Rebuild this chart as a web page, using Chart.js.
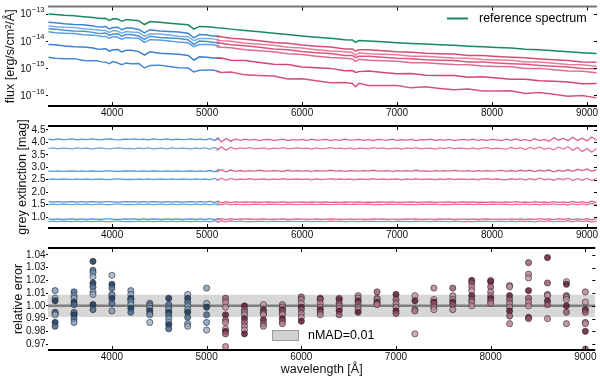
<!DOCTYPE html>
<html>
<head>
<meta charset="utf-8">
<script src="https://cdn.jsdelivr.net/npm/chart.js@4.4.0/dist/chart.umd.min.js"></script>
<style>
  body { margin: 0; background: #fff; width: 600px; height: 379px; overflow: hidden; position: relative; }
  canvas { position: absolute; left: 0; }
</style>
</head>
<body>
<canvas id="flux" width="600" height="122" style="top:0px"></canvas>
<canvas id="ext" width="600" height="130" style="top:116px"></canvas>
<canvas id="err" width="600" height="141" style="top:238px"></canvas>
<script>
// ---- top panel: log10 flux, blue arm / red arm of six observed spectra + reference ----
const WL_REF = [3330, 3400, 3500, 3600, 3700, 3800, 3840, 3890, 3930, 3970, 4010, 4060, 4100, 4150, 4200, 4280, 4340, 4400, 4500, 4600, 4700, 4800, 4861, 4920, 5000, 5060,
  5100, 5150, 5250, 5400, 5550, 5700, 5850, 6000, 6150, 6300, 6450, 6530, 6563, 6600, 6700, 6850, 7000, 7150, 7300, 7450, 7600, 7750, 7900, 8050, 8200, 8350, 8500, 8650, 8800, 8950, 9100];
const LOGF_REF = [-12.99, -13.01, -13.04, -13.06, -13.09, -13.12, -13.14, -13.16, -13.15, -13.23, -13.17, -13.18, -13.26, -13.20, -13.21, -13.24, -13.38, -13.27, -13.30, -13.33, -13.36, -13.39, -13.55, -13.45, -13.46, -13.48,
  -13.50, -13.51, -13.55, -13.60, -13.65, -13.70, -13.75, -13.80, -13.85, -13.89, -13.94, -13.95, -14.04, -13.97, -13.99, -14.02, -14.05, -14.08, -14.10, -14.13, -14.15, -14.18, -14.20, -14.23, -14.25, -14.29, -14.31, -14.35, -14.39, -14.42, -14.45];

const WL_BLUE = [3330, 3400, 3500, 3600, 3700, 3800, 3840, 3890, 3930, 3970, 4010, 4060, 4100, 4150, 4200, 4280, 4340, 4400, 4500, 4600, 4700, 4800, 4861, 4920, 5000, 5060, 5130];
const WL_RED = [5100, 5150, 5250, 5400, 5550, 5700, 5850, 6000, 6150, 6300, 6450, 6530, 6563, 6600, 6700, 6850, 7000, 7150, 7300, 7450, 7600, 7750, 7900, 8050, 8200, 8350, 8500, 8650, 8800, 8950, 9100];

const LOGF_BLUE = [
  [-13.30, -13.31, -13.35, -13.38, -13.39, -13.43, -13.46, -13.47, -13.45, -13.54, -13.49, -13.48, -13.57, -13.51, -13.51, -13.56, -13.69, -13.57, -13.62, -13.64, -13.66, -13.70, -13.87, -13.75, -13.77, -13.80, -13.80],
  [-13.43, -13.46, -13.48, -13.49, -13.54, -13.56, -13.57, -13.60, -13.60, -13.67, -13.60, -13.63, -13.70, -13.64, -13.66, -13.67, -13.82, -13.72, -13.73, -13.77, -13.81, -13.83, -13.98, -13.90, -13.90, -13.91, -13.95],
  [-13.54, -13.55, -13.59, -13.62, -13.63, -13.67, -13.70, -13.71, -13.69, -13.78, -13.73, -13.72, -13.81, -13.75, -13.75, -13.80, -13.93, -13.81, -13.86, -13.88, -13.90, -13.94, -14.11, -13.99, -14.01, -14.04, -14.04],
  [-13.65, -13.68, -13.70, -13.71, -13.76, -13.78, -13.79, -13.82, -13.82, -13.89, -13.82, -13.85, -13.92, -13.86, -13.88, -13.89, -14.04, -13.94, -13.95, -13.99, -14.03, -14.05, -14.20, -14.12, -14.12, -14.13, -14.17],
  [-14.12, -14.13, -14.17, -14.20, -14.21, -14.25, -14.28, -14.29, -14.27, -14.36, -14.31, -14.30, -14.39, -14.33, -14.33, -14.38, -14.51, -14.39, -14.44, -14.46, -14.48, -14.52, -14.69, -14.57, -14.59, -14.62, -14.62],
  [-14.59, -14.63, -14.64, -14.64, -14.71, -14.72, -14.72, -14.76, -14.77, -14.83, -14.75, -14.80, -14.86, -14.80, -14.83, -14.82, -14.98, -14.89, -14.88, -14.93, -14.98, -14.99, -15.13, -15.07, -15.06, -15.06, -15.12]
];
const LOGF_RED = [
  [-13.83, -13.83, -13.89, -13.92, -13.98, -14.04, -14.07, -14.14, -14.18, -14.21, -14.28, -14.28, -14.36, -14.31, -14.31, -14.35, -14.39, -14.40, -14.44, -14.46, -14.47, -14.52, -14.52, -14.56, -14.59, -14.61, -14.65, -14.68, -14.71, -14.76, -14.77],
  [-13.96, -13.98, -14.00, -14.07, -14.11, -14.15, -14.22, -14.25, -14.31, -14.36, -14.39, -14.41, -14.51, -14.42, -14.46, -14.48, -14.50, -14.55, -14.55, -14.59, -14.62, -14.63, -14.67, -14.69, -14.70, -14.76, -14.76, -14.81, -14.86, -14.87, -14.92],
  [-14.07, -14.07, -14.13, -14.16, -14.22, -14.28, -14.31, -14.38, -14.42, -14.45, -14.52, -14.52, -14.60, -14.55, -14.55, -14.59, -14.63, -14.64, -14.68, -14.70, -14.71, -14.76, -14.76, -14.80, -14.83, -14.85, -14.89, -14.92, -14.95, -15.00, -15.01],
  [-14.20, -14.22, -14.24, -14.31, -14.35, -14.39, -14.46, -14.49, -14.55, -14.60, -14.63, -14.65, -14.75, -14.66, -14.70, -14.72, -14.74, -14.79, -14.79, -14.83, -14.86, -14.87, -14.91, -14.93, -14.94, -15.00, -15.00, -15.05, -15.10, -15.11, -15.16],
  [-14.63, -14.62, -14.70, -14.71, -14.78, -14.85, -14.86, -14.95, -14.98, -15.00, -15.09, -15.08, -15.15, -15.12, -15.10, -15.15, -15.20, -15.19, -15.25, -15.26, -15.26, -15.33, -15.31, -15.36, -15.40, -15.40, -15.46, -15.48, -15.50, -15.57, -15.56],
  [-15.11, -15.15, -15.13, -15.24, -15.26, -15.28, -15.39, -15.38, -15.46, -15.53, -15.52, -15.56, -15.68, -15.55, -15.63, -15.63, -15.63, -15.72, -15.68, -15.74, -15.79, -15.76, -15.84, -15.84, -15.83, -15.93, -15.89, -15.96, -16.03, -16.00, -16.09]
];
const FLUX_TICKS = [-16, -15, -14, -13];

// ---- middle panel: grey extinction [mag] ----
const WL_EXT_BLUE = [3330, 3380, 3430, 3480, 3530, 3580, 3630, 3680, 3730, 3780, 3830, 3880, 3930, 3980, 4030, 4080, 4130, 4180, 4230,
  4280, 4330, 4380, 4430, 4480, 4530, 4580, 4630, 4680, 4730, 4780, 4830, 4880, 4930, 4980, 5030, 5080, 5130];
const WL_EXT_RED = [5100, 5150, 5200, 5250, 5300, 5350, 5400, 5450, 5500, 5550, 5600, 5650, 5700, 5750, 5800, 5850, 5900, 5950, 6000, 6050,
  6100, 6150, 6200, 6250, 6300, 6350, 6400, 6450, 6500, 6550, 6600, 6650, 6700, 6750, 6800, 6850, 6900, 6950, 7000, 7050,
  7100, 7150, 7200, 7250, 7300, 7350, 7400, 7450, 7500, 7550, 7600, 7650, 7700, 7750, 7800, 7850, 7900, 7950, 8000, 8050,
  8100, 8150, 8200, 8250, 8300, 8350, 8400, 8450, 8500, 8550, 8600, 8650, 8700, 8750, 8800, 8850, 8900, 8950, 9000, 9050, 9100];
const EXT_BLUE = [
  [4.13, 4.10, 4.14, 4.11, 4.12, 4.14, 4.10, 4.13, 4.11, 4.14, 4.12, 4.10, 4.13, 4.14, 4.11, 4.10, 4.13, 4.12, 4.14, 4.11, 4.13, 4.10, 4.14, 4.12, 4.11, 4.14, 4.10, 4.13, 4.11, 4.12, 4.14, 4.11, 4.13, 4.10, 4.15, 4.08, 4.18],
  [3.75, 3.78, 3.74, 3.77, 3.76, 3.74, 3.78, 3.75, 3.77, 3.74, 3.76, 3.78, 3.75, 3.74, 3.77, 3.78, 3.75, 3.76, 3.74, 3.77, 3.75, 3.78, 3.74, 3.76, 3.77, 3.74, 3.78, 3.75, 3.77, 3.76, 3.74, 3.77, 3.75, 3.78, 3.73, 3.80, 3.70],
  [2.86, 2.84, 2.86, 2.84, 2.85, 2.86, 2.84, 2.86, 2.84, 2.86, 2.85, 2.84, 2.86, 2.86, 2.84, 2.84, 2.86, 2.85, 2.86, 2.84, 2.86, 2.84, 2.86, 2.85, 2.84, 2.86, 2.84, 2.86, 2.84, 2.85, 2.86, 2.84, 2.86, 2.84, 2.87, 2.82, 2.93],
  [2.51, 2.53, 2.51, 2.53, 2.52, 2.51, 2.53, 2.51, 2.53, 2.51, 2.52, 2.53, 2.51, 2.51, 2.53, 2.53, 2.51, 2.52, 2.51, 2.53, 2.51, 2.53, 2.51, 2.52, 2.53, 2.51, 2.53, 2.51, 2.53, 2.52, 2.51, 2.53, 2.51, 2.53, 2.50, 2.55, 2.48],
  [1.62, 1.60, 1.62, 1.60, 1.61, 1.62, 1.60, 1.62, 1.60, 1.62, 1.61, 1.60, 1.62, 1.62, 1.60, 1.60, 1.62, 1.61, 1.62, 1.60, 1.62, 1.60, 1.62, 1.61, 1.60, 1.62, 1.60, 1.62, 1.60, 1.61, 1.62, 1.60, 1.62, 1.60, 1.63, 1.59, 1.64],
  [1.50, 1.52, 1.50, 1.52, 1.51, 1.50, 1.52, 1.50, 1.52, 1.50, 1.51, 1.52, 1.50, 1.50, 1.52, 1.52, 1.50, 1.51, 1.50, 1.52, 1.50, 1.52, 1.50, 1.51, 1.52, 1.50, 1.52, 1.50, 1.52, 1.51, 1.50, 1.52, 1.50, 1.52, 1.49, 1.53, 1.48],
  [0.93, 0.91, 0.93, 0.91, 0.92, 0.93, 0.91, 0.93, 0.91, 0.93, 0.92, 0.91, 0.93, 0.93, 0.91, 0.91, 0.93, 0.92, 0.93, 0.91, 0.93, 0.91, 0.93, 0.92, 0.91, 0.93, 0.91, 0.93, 0.91, 0.92, 0.93, 0.91, 0.93, 0.91, 0.94, 0.90, 0.95],
  [0.82, 0.84, 0.82, 0.84, 0.83, 0.82, 0.84, 0.82, 0.84, 0.82, 0.83, 0.84, 0.82, 0.82, 0.84, 0.84, 0.82, 0.83, 0.82, 0.84, 0.82, 0.84, 0.82, 0.83, 0.84, 0.82, 0.84, 0.82, 0.84, 0.83, 0.82, 0.84, 0.82, 0.84, 0.81, 0.85, 0.80]
];
const EXT_RED = [
  [4.19, 4.03, 4.16, 4.05, 4.14, 4.08, 4.13, 4.09, 4.12, 4.07, 4.11, 4.12, 4.08, 4.10, 4.13, 4.07, 4.11, 4.09, 4.12, 4.08, 4.13,
   4.09, 4.10, 4.12, 4.07, 4.11, 4.08, 4.13, 4.09, 4.10, 4.12, 4.08, 4.11, 4.07, 4.12, 4.10, 4.09, 4.13, 4.08, 4.11, 4.09,
   4.12, 4.07, 4.11, 4.10, 4.13, 4.08, 4.11, 4.09, 4.12, 4.07, 4.10, 4.12, 4.09, 4.13, 4.08, 4.11, 4.08, 4.12, 4.10, 4.07,
   4.13, 4.08, 4.14, 4.07, 4.12, 4.06, 4.15, 4.07, 4.12, 4.05, 4.19, 4.09, 4.16, 4.07, 4.21, 4.08, 4.17, 4.06, 4.22, 4.09],
  [3.68, 3.82, 3.69, 3.81, 3.73, 3.78, 3.75, 3.79, 3.74, 3.76, 3.78, 3.73, 3.77, 3.75, 3.79, 3.74, 3.76, 3.78, 3.75, 3.77, 3.73,
   3.78, 3.74, 3.76, 3.79, 3.75, 3.77, 3.74, 3.78, 3.73, 3.77, 3.76, 3.74, 3.79, 3.75, 3.78, 3.74, 3.76, 3.77, 3.73, 3.78,
   3.75, 3.79, 3.74, 3.76, 3.77, 3.73, 3.78, 3.75, 3.79, 3.74, 3.77, 3.76, 3.74, 3.78, 3.73, 3.77, 3.79, 3.74, 3.77, 3.75,
   3.73, 3.80, 3.74, 3.79, 3.71, 3.80, 3.73, 3.82, 3.72, 3.78, 3.70, 3.81, 3.73, 3.83, 3.68, 3.80, 3.64, 3.75, 3.61, 3.76],
  [2.81, 2.90, 2.82, 2.89, 2.84, 2.87, 2.84, 2.87, 2.85, 2.88, 2.85, 2.85, 2.87, 2.86, 2.84, 2.88, 2.85, 2.87, 2.85, 2.87, 2.84,
   2.87, 2.86, 2.85, 2.88, 2.85, 2.87, 2.84, 2.87, 2.86, 2.85, 2.87, 2.85, 2.88, 2.85, 2.86, 2.87, 2.84, 2.87, 2.85, 2.87,
   2.85, 2.88, 2.85, 2.86, 2.84, 2.87, 2.85, 2.87, 2.85, 2.88, 2.86, 2.85, 2.87, 2.84, 2.87, 2.85, 2.87, 2.85, 2.86, 2.88,
   2.84, 2.87, 2.84, 2.88, 2.85, 2.88, 2.83, 2.88, 2.85, 2.89, 2.82, 2.88, 2.84, 2.90, 2.84, 2.92, 2.87, 2.93, 2.84, 2.91],
  [2.47, 2.56, 2.48, 2.55, 2.50, 2.53, 2.51, 2.54, 2.51, 2.52, 2.53, 2.50, 2.53, 2.51, 2.54, 2.51, 2.52, 2.53, 2.51, 2.53, 2.50,
   2.53, 2.51, 2.52, 2.54, 2.51, 2.53, 2.51, 2.53, 2.50, 2.53, 2.52, 2.51, 2.54, 2.51, 2.53, 2.51, 2.52, 2.53, 2.50, 2.53,
   2.51, 2.54, 2.51, 2.52, 2.53, 2.50, 2.53, 2.51, 2.54, 2.51, 2.53, 2.52, 2.51, 2.53, 2.50, 2.53, 2.54, 2.51, 2.53, 2.51,
   2.50, 2.54, 2.51, 2.54, 2.49, 2.54, 2.50, 2.56, 2.50, 2.53, 2.48, 2.55, 2.50, 2.56, 2.47, 2.54, 2.48, 2.55, 2.47, 2.56],
  [1.64, 1.57, 1.62, 1.58, 1.62, 1.59, 1.61, 1.60, 1.61, 1.59, 1.60, 1.61, 1.59, 1.60, 1.61, 1.59, 1.60, 1.60, 1.61, 1.59, 1.61,
   1.60, 1.60, 1.61, 1.59, 1.60, 1.59, 1.61, 1.60, 1.60, 1.61, 1.59, 1.60, 1.59, 1.61, 1.60, 1.60, 1.61, 1.59, 1.60, 1.60,
   1.61, 1.59, 1.60, 1.60, 1.61, 1.59, 1.60, 1.60, 1.61, 1.59, 1.60, 1.61, 1.60, 1.61, 1.59, 1.60, 1.59, 1.61, 1.60, 1.59,
   1.61, 1.59, 1.62, 1.59, 1.61, 1.58, 1.62, 1.59, 1.61, 1.58, 1.62, 1.58, 1.61, 1.58, 1.63, 1.58, 1.62, 1.57, 1.64, 1.58],
  [1.54, 1.49, 1.54, 1.49, 1.52, 1.50, 1.51, 1.50, 1.52, 1.51, 1.50, 1.52, 1.51, 1.51, 1.50, 1.52, 1.51, 1.50, 1.51, 1.51, 1.52,
   1.50, 1.52, 1.51, 1.50, 1.51, 1.51, 1.52, 1.50, 1.52, 1.51, 1.51, 1.52, 1.50, 1.51, 1.50, 1.52, 1.51, 1.51, 1.52, 1.50,
   1.51, 1.50, 1.52, 1.51, 1.51, 1.52, 1.50, 1.51, 1.50, 1.52, 1.51, 1.51, 1.52, 1.50, 1.52, 1.51, 1.50, 1.52, 1.51, 1.51,
   1.52, 1.49, 1.52, 1.50, 1.53, 1.49, 1.52, 1.49, 1.53, 1.50, 1.53, 1.49, 1.52, 1.48, 1.54, 1.49, 1.53, 1.49, 1.55, 1.49],
  [0.90, 0.94, 0.90, 0.94, 0.91, 0.93, 0.92, 0.93, 0.91, 0.92, 0.93, 0.91, 0.92, 0.92, 0.93, 0.91, 0.92, 0.93, 0.92, 0.92, 0.91,
   0.93, 0.91, 0.92, 0.93, 0.92, 0.92, 0.91, 0.93, 0.91, 0.92, 0.92, 0.91, 0.93, 0.92, 0.93, 0.91, 0.92, 0.92, 0.91, 0.93,
   0.92, 0.93, 0.91, 0.92, 0.92, 0.91, 0.93, 0.92, 0.93, 0.91, 0.92, 0.92, 0.91, 0.93, 0.91, 0.92, 0.93, 0.91, 0.92, 0.92,
   0.91, 0.93, 0.91, 0.93, 0.90, 0.93, 0.91, 0.94, 0.91, 0.93, 0.90, 0.94, 0.91, 0.94, 0.90, 0.93, 0.90, 0.94, 0.89, 0.94],
  [0.80, 0.85, 0.81, 0.85, 0.82, 0.84, 0.82, 0.83, 0.82, 0.84, 0.83, 0.82, 0.84, 0.83, 0.82, 0.84, 0.83, 0.83, 0.82, 0.84, 0.82,
   0.83, 0.83, 0.82, 0.84, 0.83, 0.84, 0.82, 0.83, 0.83, 0.82, 0.84, 0.83, 0.84, 0.82, 0.83, 0.83, 0.82, 0.84, 0.83, 0.83,
   0.82, 0.84, 0.83, 0.83, 0.82, 0.84, 0.83, 0.83, 0.82, 0.84, 0.83, 0.82, 0.83, 0.82, 0.84, 0.83, 0.84, 0.82, 0.83, 0.84,
   0.82, 0.84, 0.82, 0.84, 0.82, 0.84, 0.81, 0.84, 0.82, 0.85, 0.81, 0.84, 0.82, 0.85, 0.81, 0.85, 0.82, 0.85, 0.80, 0.84]
];
const EXT_TICKS = [1.0, 1.5, 2.0, 2.5, 3.0, 3.5, 4.0, 4.5];

// ---- bottom panel: relative error per wavelength bin ----
const ERR_WL = [3400, 3600, 3800, 4000, 4200, 4400, 4600, 4800, 5000, 5200, 5400, 5600, 5800, 6000, 6200, 6400, 6600, 6800, 7000,
  7200, 7400, 7600, 7800, 8000, 8200, 8400, 8600, 8800, 9000];
const ERR_VALUES = [
  [1.012, 1.006, 1.004, 0.995, 0.994, 0.993, 0.987, 0.984],
  [1.011, 1.008, 1.006, 1.003, 1.001, 0.995, 0.994, 0.993, 0.990, 0.987],
  [1.035, 1.028, 1.026, 1.023, 1.018, 1.015, 1.011, 1.009, 1.001, 0.997],
  [1.024, 1.017, 1.014, 1.009, 1.008, 1.006, 1.002, 0.996],
  [1.012, 1.009, 1.006, 1.005, 1.003, 1.001, 0.998, 0.995],
  [1.002, 1.000, 0.998, 0.996, 0.994, 0.993, 0.987],
  [1.006, 1.001, 0.998, 0.997, 0.995, 0.993, 0.990, 0.987, 0.985, 0.982],
  [1.009, 1.006, 1.003, 1.000, 0.997, 0.995, 0.991, 0.986, 0.984],
  [1.014, 1.002, 0.999, 0.993, 0.987, 0.981],
  [1.006, 1.003, 0.999, 0.993, 0.989, 0.987, 0.982, 0.980, 0.978, 0.968],
  [1.000, 0.997, 0.995, 0.993, 0.990, 0.987, 0.984, 0.981, 0.978],
  [1.001, 0.997, 0.995, 0.994, 0.993, 0.989, 0.986, 0.984],
  [1.001, 0.999, 0.997, 0.996, 0.994, 0.993, 0.990, 0.988, 0.986],
  [1.007, 1.005, 1.002, 0.999, 0.997, 0.994, 0.991, 0.988],
  [1.006, 1.005, 1.002, 0.999, 0.997, 0.995, 0.993],
  [1.006, 1.005, 1.002, 1.000, 0.998, 0.996, 0.993],
  [1.008, 1.006, 1.004, 1.002, 0.999, 0.997, 0.995],
  [1.011, 1.006, 1.005, 1.003, 1.002, 1.001],
  [1.009, 1.005, 1.002, 0.999, 0.996, 0.994],
  [1.008, 1.004, 0.997, 0.996, 0.978],
  [1.014, 1.005, 1.003, 1.002, 0.999, 0.997],
  [1.014, 1.008, 1.005, 1.003, 1.001, 0.997],
  [1.020, 1.018, 1.015, 1.012, 1.008, 1.005, 1.003, 1.000],
  [1.020, 1.019, 1.015, 1.011, 1.008, 1.006, 1.004, 1.002],
  [1.016, 1.015, 1.008, 1.005, 1.002, 0.999, 0.996, 0.992, 0.986],
  [1.034, 1.025, 1.022, 1.012, 1.006, 1.003, 1.000, 0.991, 0.990],
  [1.038, 1.018, 1.009, 1.008, 1.004, 1.001, 0.990],
  [1.019, 1.017, 1.008, 1.007, 1.005, 1.000, 0.995, 0.986],
  [1.011, 1.003, 0.997, 0.995, 0.987, 0.986, 0.980, 0.966]
];
const NMAD = 0.0087;
const ERR_TICKS = [0.97, 0.98, 0.99, 1.00, 1.01, 1.02, 1.03, 1.04];

const X_MIN = 3325, X_MAX = 9105;
const X_TICKS = [4000, 5000, 6000, 7000, 8000, 9000];
const SPLIT_WL = 5050; // bins up to here belong to the blue arm

Chart.defaults.font.family = '"Liberation Sans", Arial, sans-serif';
Chart.defaults.color = '#111';
Chart.defaults.animation = false;
Chart.defaults.plugins.legend.display = false;
Chart.defaults.plugins.tooltip.enabled = false;

const FONT = '"Liberation Sans", Arial, sans-serif';
const GREEN = '#17895e';
const BLUE_LINES = ['#3f86d2', '#78ade2', '#4a8fd6', '#5e9cda', '#3b80cf', '#4689d3'];
const RED_LINES = ['rgba(212,55,100,0.9)', 'rgba(224,112,142,0.9)', 'rgba(214,70,112,0.9)', 'rgba(220,92,130,0.9)', 'rgba(206,50,96,0.9)', 'rgba(212,62,106,0.9)'];

function xAxis(height, title) {
  return {
    type: 'linear', min: X_MIN, max: X_MAX,
    afterBuildTicks: s => { s.ticks = X_TICKS.map(v => ({ value: v })); },
    afterFit: s => { s.height = height; },
    grid: { display: false, drawTicks: false },
    border: { display: false },
    ticks: { font: { size: 10 }, padding: 1.5, maxRotation: 0, autoSkip: false, callback: v => String(v) },
    title: title ? { display: true, text: title, font: { size: 12.5 }, padding: { top: 0, bottom: 1.5 } } : { display: false }
  };
}

function yAxis(min, max, ticks, title, titlePad, fmt) {
  return {
    type: 'linear', min, max,
    afterBuildTicks: s => { s.ticks = ticks.map(v => ({ value: v })); },
    afterFit: s => { s.width = 48; },
    grid: { drawOnChartArea: false, drawTicks: true, tickLength: 2, color: '#000', lineWidth: 1 },
    border: { display: false },
    ticks: { font: { size: 10 }, padding: 0.5, autoSkip: false, callback: fmt },
    title: { display: true, text: title, font: { size: 12.5 }, padding: { top: titlePad, bottom: 0 } }
  };
}

// spines top/bottom + inward ticks on both x spines and on the right
const frame = {
  id: 'frame',
  afterDatasetsDraw(chart, args, opts) {
    const { ctx, chartArea: a, scales } = chart;
    ctx.save();
    ctx.strokeStyle = '#000';
    ctx.lineWidth = 1;
    ctx.beginPath();
    scales.x.ticks.forEach(t => {
      const px = Math.round(scales.x.getPixelForValue(t.value)) + 0.5;
      ctx.moveTo(px, a.top); ctx.lineTo(px, a.top + 4);
      ctx.moveTo(px, a.bottom); ctx.lineTo(px, a.bottom - 4);
    });
    scales.y.ticks.forEach(t => {
      const py = Math.round(scales.y.getPixelForValue(t.value)) + 0.5;
      ctx.moveTo(a.right, py); ctx.lineTo(a.right - 3, py);
    });
    ctx.stroke();
    ctx.lineWidth = 1.8;
    ctx.strokeStyle = opts.topColor || '#000';
    ctx.beginPath(); ctx.moveTo(a.left, a.top); ctx.lineTo(a.right, a.top); ctx.stroke();
    ctx.strokeStyle = '#000';
    ctx.beginPath(); ctx.moveTo(a.left, a.bottom); ctx.lineTo(a.right, a.bottom); ctx.stroke();
    ctx.restore();
  }
};

// 10^n labels for the flux axis
const powLabels = {
  id: 'powLabels',
  afterDraw(chart) {
    const { ctx, scales: { y } } = chart;
    ctx.save();
    ctx.fillStyle = '#111';
    ctx.textBaseline = 'middle';
    ctx.textAlign = 'right';
    FLUX_TICKS.forEach(v => {
      const py = y.getPixelForValue(v);
      const ex = '\u2212' + Math.abs(v);
      ctx.font = '7.5px ' + FONT;
      const w = ctx.measureText(ex).width;
      ctx.fillText(ex, 44.5, py - 4);
      ctx.font = '10px ' + FONT;
      ctx.fillText('10', 44.5 - w - 0.5, py + 0.5);
    });
    ctx.restore();
  }
};

const fluxLegend = {
  id: 'fluxLegend',
  afterDraw(chart) {
    const { ctx } = chart;
    ctx.save();
    ctx.strokeStyle = GREEN;
    ctx.lineWidth = 2;
    ctx.beginPath(); ctx.moveTo(447, 18.5); ctx.lineTo(468, 18.5); ctx.stroke();
    ctx.fillStyle = '#000';
    ctx.font = '12.5px ' + FONT;
    ctx.textBaseline = 'middle';
    ctx.fillText('reference spectrum', 479, 18.5);
    ctx.restore();
  }
};

const errLegend = {
  id: 'errLegend',
  afterDraw(chart) {
    const { ctx } = chart;
    ctx.save();
    ctx.fillStyle = 'rgba(208,208,208,0.95)';
    ctx.strokeStyle = '#9a9a9a';
    ctx.lineWidth = 1;
    ctx.fillRect(272.5, 92.5, 26, 10);
    ctx.strokeRect(272.5, 92.5, 26, 10);
    ctx.fillStyle = '#000';
    ctx.font = '12.5px ' + FONT;
    ctx.textBaseline = 'middle';
    ctx.fillText('nMAD=0.01', 308, 97.5);
    ctx.restore();
  }
};

function lineSet(xs, ys, color, width, order) {
  return {
    data: xs.map((x, i) => ({ x, y: ys[i] })),
    borderColor: color, borderWidth: width, pointRadius: 0, tension: 0, fill: false, order
  };
}

// ---------- top: flux ----------
const fluxSets = [lineSet(WL_REF, LOGF_REF, GREEN, 1.5, 0)];
LOGF_RED.forEach((ys, i) => fluxSets.push(lineSet(WL_RED, ys, RED_LINES[i], 1.5, 1)));
LOGF_BLUE.forEach((ys, i) => fluxSets.push(lineSet(WL_BLUE, ys, BLUE_LINES[i], 1.5, 2)));

new Chart(document.getElementById('flux'), {
  type: 'line',
  data: { datasets: fluxSets },
  options: {
    responsive: false, devicePixelRatio: 1,
    layout: { padding: { top: 3, right: 3, left: 0, bottom: 0 } },
    plugins: { frame: { topColor: '#777' } },
    scales: {
      x: xAxis(16),
      y: yAxis(-16.39, -12.714, FLUX_TICKS, 'flux [erg/s/cm\u00b2/\u00c5]', 3, () => '')
    }
  },
  plugins: [frame, powLabels, fluxLegend]
});

// ---------- middle: grey extinction ----------
const extSets = [];
EXT_RED.forEach((ys, i) => extSets.push(lineSet(WL_EXT_RED, ys, i % 2 ? 'rgba(224,104,140,0.9)' : 'rgba(214,80,122,0.9)', 1.3, 1)));
EXT_BLUE.forEach((ys, i) => extSets.push(lineSet(WL_EXT_BLUE, ys, i % 2 ? '#6aa5de' : '#4f93d8', 1.3, 2)));

new Chart(document.getElementById('ext'), {
  type: 'line',
  data: { datasets: extSets },
  options: {
    responsive: false, devicePixelRatio: 1,
    layout: { padding: { top: 10, right: 3, left: 0, bottom: 0 } },
    scales: {
      x: xAxis(18),
      y: yAxis(0.56, 4.66, EXT_TICKS, 'grey extinction [mag]', 15.5, v => v.toFixed(1))
    }
  },
  plugins: [frame]
});

// ---------- bottom: relative error ----------
const BLUE_PTS = ['rgba(120,152,188,0.8)', 'rgba(72,106,146,0.85)', 'rgba(34,62,98,0.9)', 'rgba(146,170,198,0.75)'];
const RED_PTS = ['rgba(182,124,148,0.8)', 'rgba(152,84,112,0.8)', 'rgba(100,24,56,0.85)', 'rgba(196,142,162,0.75)'];
const pts = [], ptColors = [];
ERR_WL.forEach((w, j) => {
  ERR_VALUES[j].forEach((v, k) => {
    pts.push({ x: w, y: v });
    const pal = w <= SPLIT_WL ? BLUE_PTS : RED_PTS;
    ptColors.push(pal[(k * 3 + j) % pal.length]);
  });
});

new Chart(document.getElementById('err'), {
  type: 'line',
  data: {
    datasets: [
      { data: pts, showLine: false, pointRadius: 3.1, pointBorderWidth: 0.7,
        pointBackgroundColor: ptColors, pointBorderColor: 'rgba(40,40,40,0.85)', order: 0 },
      { data: [{ x: X_MIN, y: 1 }, { x: X_MAX, y: 1 }], borderColor: '#808080', borderWidth: 2.5, pointRadius: 0, order: 1 },
      { data: [{ x: X_MIN, y: 1 + NMAD }, { x: X_MAX, y: 1 + NMAD }], borderWidth: 0, pointRadius: 0,
        fill: { value: 1 - NMAD }, backgroundColor: 'rgba(208,208,208,0.85)', order: 2 }
    ]
  },
  options: {
    responsive: false, devicePixelRatio: 1,
    layout: { padding: { top: 10, right: 3, left: 0, bottom: 0 } },
    scales: {
      x: xAxis(29, 'wavelength [\u00c5]'),
      y: yAxis(0.9653, 1.0455, ERR_TICKS, 'relative error', 11.5, v => v.toFixed(2))
    }
  },
  plugins: [frame, errLegend]
});
</script>
</body>
</html>
